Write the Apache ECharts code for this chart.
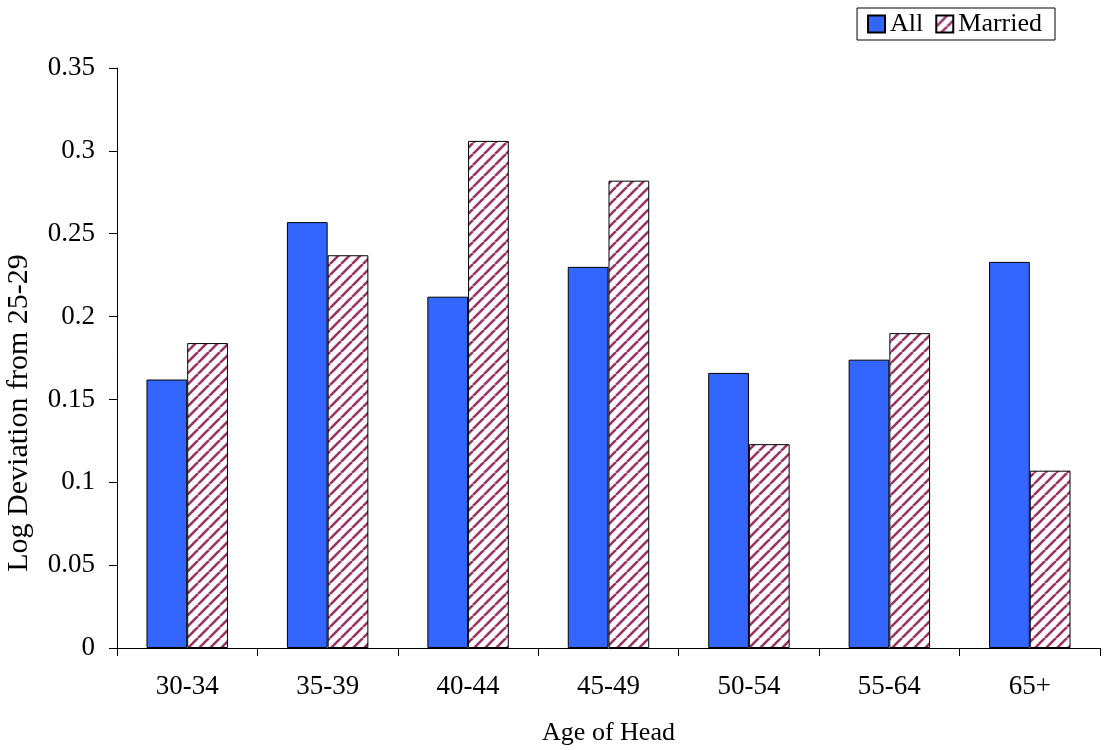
<!DOCTYPE html>
<html><head><meta charset="utf-8">
<script src="https://cdn.jsdelivr.net/npm/echarts@6/dist/echarts.min.js"></script>
<style>html,body{margin:0;padding:0;background:#fff}#c{width:1104px;height:750px}</style>
</head><body><div id="c"></div>
<script>
const categories = ['30-34','35-39','40-44','45-49','50-54','55-64','65+'];
const allValues = [0.162, 0.257, 0.212, 0.230, 0.166, 0.174, 0.233];
const marriedValues = [0.184, 0.237, 0.306, 0.282, 0.123, 0.190, 0.107];
const seriesNames = ['All', 'Married'];

function hatch() {
  const s = 11;
  const c = document.createElement('canvas');
  c.width = s; c.height = s;
  const g = c.getContext('2d');
  g.fillStyle = '#fff'; g.fillRect(0,0,s,s);
  g.strokeStyle = '#993366'; g.lineWidth = 2.6;
  for (const o of [-s, 0, s]) {
    g.beginPath(); g.moveTo(o, s); g.lineTo(o + s, 0); g.stroke();
  }
  return c;
}
const font = 'Liberation Serif';
const chart = echarts.init(document.getElementById('c'));
chart.setOption({
  animation: false,
  backgroundColor: '#fff',
  textStyle: { fontFamily: font },
  legend: {
    right: 49, top: 8, itemWidth: 17, itemHeight: 17, itemGap: 12, icon: 'rect',
    padding: [3, 13, 3, 10], borderColor: '#000', borderWidth: 1,
    textStyle: { fontFamily: font, fontSize: 26, color: '#000' },
    data: seriesNames
  },
  grid: { left: 117, right: 4, top: 68, bottom: 102, outerBoundsMode: 'none', containLabel: false },
  xAxis: {
    type: 'category', data: categories,
    name: 'Age of Head', nameLocation: 'middle', nameGap: 72,
    nameTextStyle: { fontFamily: font, fontSize: 26, color: '#000' },
    axisLine: { lineStyle: { color: '#000', width: 1 } },
    axisTick: { show: true, length: 8, lineStyle: { color: '#000' } },
    axisLabel: { fontFamily: font, fontSize: 27, color: '#000', margin: 25 }
  },
  yAxis: {
    type: 'value', min: 0, max: 0.35, interval: 0.05,
    name: 'Log Deviation from 25-29', nameLocation: 'middle', nameGap: 83,
    nameTextStyle: { fontFamily: font, fontSize: 30, color: '#000', padding: [0, 110, 0, 0] },
    axisLine: { show: true, lineStyle: { color: '#000', width: 1 } },
    axisTick: { show: true, length: 8, lineStyle: { color: '#000' } },
    splitLine: { show: false },
    axisLabel: { fontFamily: font, fontSize: 27, color: '#000', margin: 22,
      formatter: v => String(+v.toFixed(2)) }
  },
  series: [
    { name: seriesNames[0], type: 'bar', data: allValues, barGap: '0%', barCategoryGap: '42%',
      itemStyle: { color: '#3366FF', borderColor: '#000', borderWidth: 1 } },
    { name: seriesNames[1], type: 'bar', data: marriedValues, barGap: '0%', barCategoryGap: '42%',
      itemStyle: { color: { image: hatch(), repeat: 'repeat' }, borderColor: '#000', borderWidth: 1 } }
  ]
});
</script></body></html>
